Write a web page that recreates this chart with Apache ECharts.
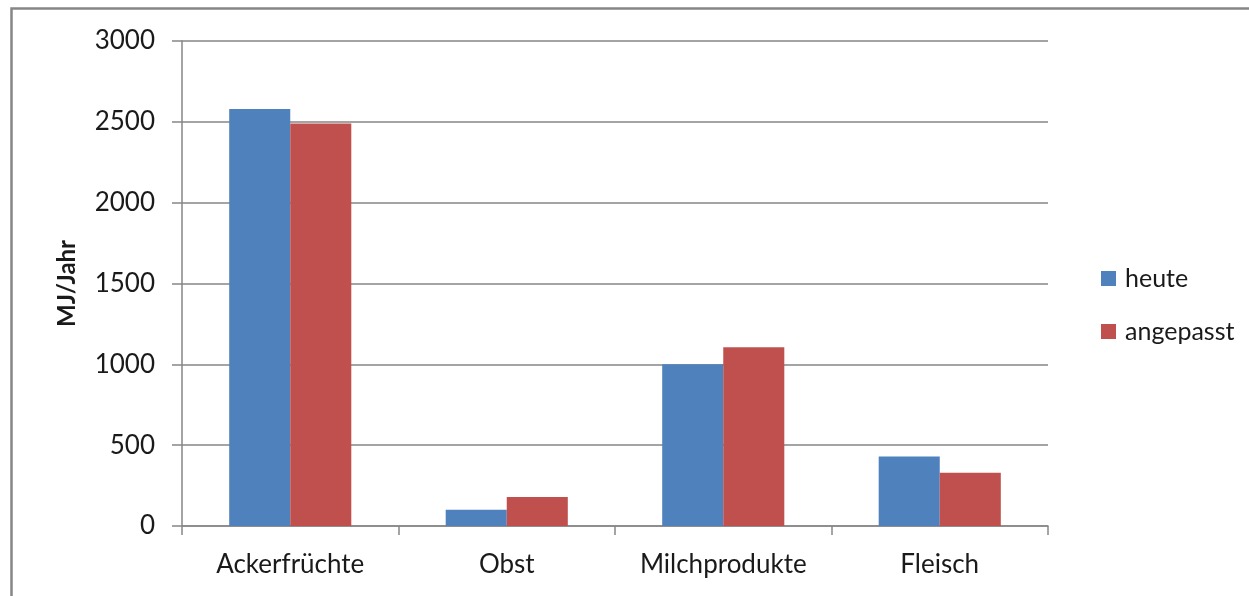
<!DOCTYPE html>
<html>
<head>
<meta charset="utf-8">
<script src="https://cdn.jsdelivr.net/npm/echarts@6/dist/echarts.min.js"></script>
<style>
  html, body { margin: 0; padding: 0; background: #fff; }
  #chart { width: 1249px; height: 596px; }
</style>
</head>
<body>
<div id="chart"></div>
<script>
// Energieaufwand pro Lebensmittelgruppe (MJ/Jahr)
var categories = ['Ackerfrüchte', 'Obst', 'Milchprodukte', 'Fleisch'];
var heute = [2580, 100, 1000, 430];
var angepasst = [2490, 180, 1105, 330];
var seriesNames = ['heute', 'angepasst'];
var yTicks = [0, 500, 1000, 1500, 2000, 2500, 3000];

var FONT = 'Lato, "Open Sans", sans-serif';
var GRID_COLOR = '#868686';

var chart = echarts.init(document.getElementById('chart'), null, { renderer: 'canvas' });

chart.setOption({
  animation: false,
  backgroundColor: '#ffffff',
  textStyle: { fontFamily: FONT },
  graphic: [{
    type: 'rect',
    silent: true,
    shape: { x: 11.5, y: 8.5, width: 1400, height: 800 },
    style: { fill: 'none', stroke: '#868686', lineWidth: 2.5 }
  }],
  grid: { left: 182, right: 1249 - 1048, top: 41, bottom: 596 - 526, containLabel: false },
  legend: {
    orient: 'vertical',
    left: 1096,
    top: 261,
    icon: 'rect',
    itemWidth: 15,
    itemHeight: 15,
    itemGap: 28,
    selectedMode: false,
    data: seriesNames,
    textStyle: { fontFamily: FONT, fontSize: 25, color: '#1a1a1a', lineHeight: 25, padding: [0, 0, 0, 4] }
  },
  xAxis: {
    type: 'category',
    data: categories,
    axisLine: { show: true, lineStyle: { color: GRID_COLOR, width: 1.5 } },
    axisTick: { show: true, length: 9, lineStyle: { color: GRID_COLOR, width: 1.5 } },
    axisLabel: { fontFamily: FONT, fontSize: 26, color: '#1a1a1a', margin: 26, interval: 0 },
    splitLine: { show: false }
  },
  yAxis: {
    type: 'value',
    min: yTicks[0],
    max: yTicks[yTicks.length - 1],
    interval: 500,
    name: 'MJ/Jahr',
    nameLocation: 'middle',
    nameGap: 103,
    nameRotate: 90,
    nameTextStyle: { fontFamily: FONT, fontSize: 24, fontWeight: 'bold', color: '#1a1a1a' },
    axisLine: { show: true, lineStyle: { color: GRID_COLOR, width: 1.5 } },
    axisTick: { show: true, length: 10, lineStyle: { color: GRID_COLOR, width: 1.5 } },
    axisLabel: {
      fontFamily: FONT, fontSize: 26, color: '#1a1a1a', margin: 27,
      formatter: function (v) { return String(v); }
    },
    splitLine: { show: true, lineStyle: { color: GRID_COLOR, width: 1.5 } }
  },
  series: [
    {
      name: seriesNames[0],
      type: 'bar',
      data: heute,
      barGap: '0%',
      barCategoryGap: '43.6%',
      itemStyle: { color: '#4F81BD' }
    },
    {
      name: seriesNames[1],
      type: 'bar',
      data: angepasst,
      barGap: '0%',
      barCategoryGap: '43.6%',
      itemStyle: { color: '#C0504D' }
    }
  ]
});
</script>
</body>
</html>
